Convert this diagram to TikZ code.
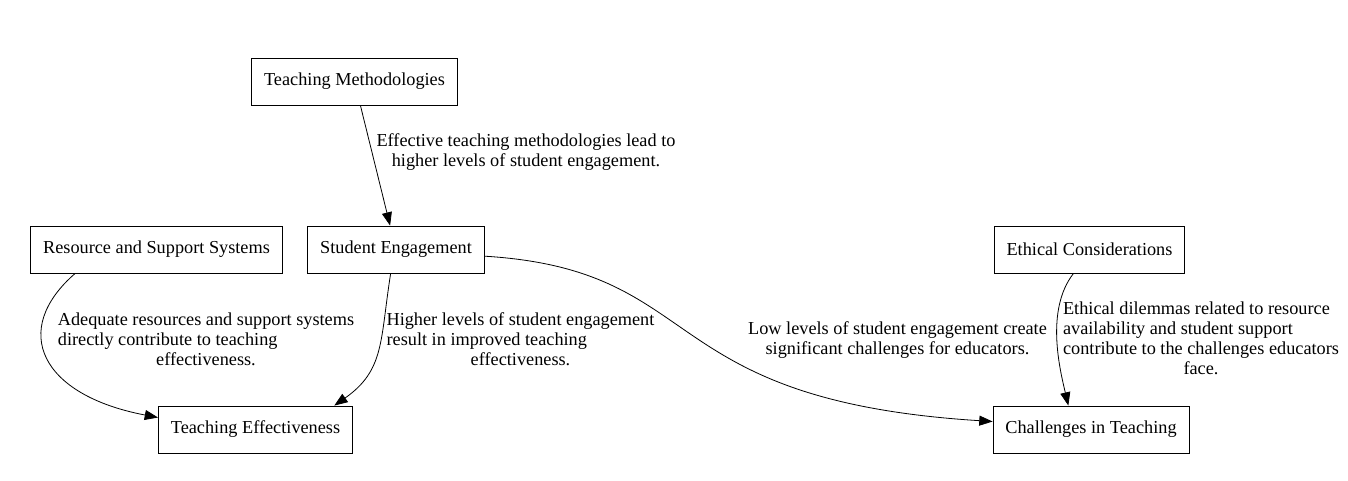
\documentclass[tikz,border=0pt]{standalone}
\usepackage{fontspec}
\setmainfont{Liberation Serif}
\usetikzlibrary{arrows.meta}
\begin{document}
\begin{tikzpicture}[
    x=0.75pt, y=-0.75pt,
    every node/.style={font=\fontsize{13.7}{15}\selectfont},
    box/.style={draw, line width=0.6pt, rectangle, inner xsep=9.3pt, inner ysep=0pt, minimum height=35.25pt},
    edge/.style={line width=0.6pt, -{Triangle[length=10pt, width=7.5pt]}},
    lab/.style={draw=none, fill=none, inner sep=0pt, align=center}
]
\useasboundingbox (0,0) rectangle (1348,480);

\node[box] (tm) at (354.5,81.5) {Teaching Methodologies};
\node[box] (se) at (396,249.5) {Student Engagement};
\node[box] (rss) at (156.5,249.5) {Resource and Support Systems};
\node[box] (te) at (255.5,429.5) {Teaching Effectiveness};
\node[box] (ec) at (1089.5,249.5) {Ethical Considerations};
\node[box] (ct) at (1091,429.5) {Challenges in Teaching};

\draw[edge] (tm) -- (se);
\draw[edge] ([xshift=-61pt]rss.south) .. controls (10,330) and (40,395) .. ([yshift=9pt]te.west);
\draw[edge] ([xshift=-4pt]se.south) .. controls (380,340) and (385,370) .. ([xshift=-14pt]te.north east);
\draw[edge] ([yshift=-5pt]se.east) .. controls (710,270) and (650,400) .. ([yshift=6pt]ct.west);
\draw[edge] ([xshift=-12pt]ec.south) .. controls (1045,310) and (1060,370) .. ([xshift=-17pt]ct.north);

\node[lab] (l1) at (526,152) {Effective teaching methodologies lead to\\higher levels of student engagement.};
\node[lab] (l2) at (206,341) {\begin{tabular}{@{}l@{}}Adequate resources and support systems\\directly contribute to teaching\\\multicolumn{1}{@{}c@{}}{effectiveness.}\end{tabular}};
\node[lab] (l3) at (520.5,341) {\begin{tabular}{@{}l@{}}Higher levels of student engagement\\result in improved teaching\\\multicolumn{1}{@{}c@{}}{effectiveness.}\end{tabular}};
\node[lab] (l4) at (897.5,340) {Low levels of student engagement create\\significant challenges for educators.};
\node[lab] (l5) at (1201,340) {\begin{tabular}{@{}l@{}}Ethical dilemmas related to resource\\availability and student support\\contribute to the challenges educators\\\multicolumn{1}{@{}c@{}}{face.}\end{tabular}};
\end{tikzpicture}
\end{document}
